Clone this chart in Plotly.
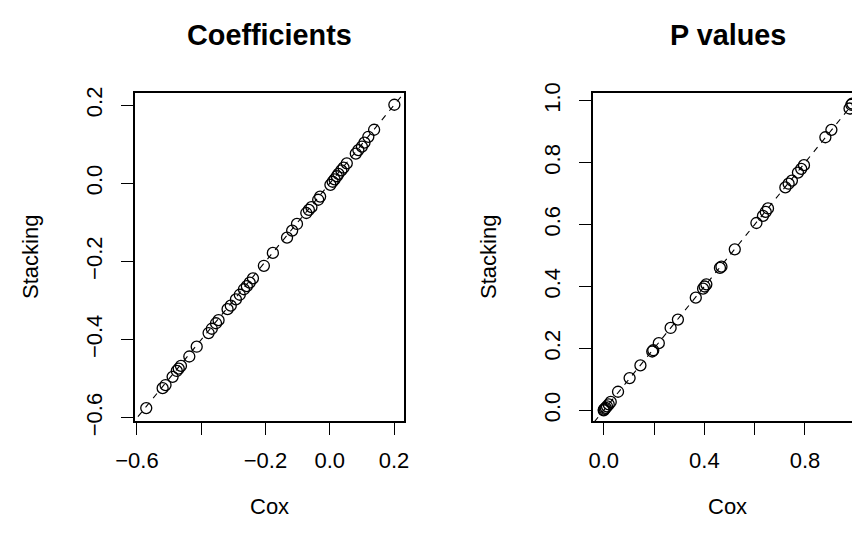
import plotly.graph_objects as go

# ---- data: Coefficients panel ----
coef_cox = [-0.571, -0.520, -0.511, -0.489, -0.476, -0.470, -0.463, -0.437, -0.414,
            -0.377, -0.367, -0.354, -0.346, -0.318, -0.308, -0.292, -0.280, -0.267,
            -0.258, -0.249, -0.239, -0.205, -0.177, -0.133, -0.117, -0.102, -0.073,
            -0.065, -0.057, -0.036, -0.030, 0.002, 0.009, 0.015, 0.022, 0.027, 0.036,
            0.043, 0.053, 0.081, 0.089, 0.100, 0.108, 0.120, 0.138, 0.201]
coef_stack = [-0.575, -0.524, -0.516, -0.495, -0.480, -0.474, -0.467, -0.443, -0.418,
              -0.383, -0.372, -0.358, -0.350, -0.322, -0.313, -0.297, -0.285, -0.271,
              -0.263, -0.254, -0.243, -0.211, -0.178, -0.139, -0.121, -0.104, -0.076,
              -0.068, -0.061, -0.042, -0.034, -0.004, 0.004, 0.010, 0.018, 0.024, 0.033,
              0.040, 0.051, 0.076, 0.085, 0.094, 0.104, 0.119, 0.137, 0.201]

# ---- data: P values panel ----
p_cox = [0.000, 0.001, 0.004, 0.008, 0.013, 0.020, 0.028, 0.057, 0.103, 0.146,
         0.193, 0.197, 0.219, 0.266, 0.295, 0.366, 0.395, 0.401, 0.408, 0.462,
         0.468, 0.521, 0.607, 0.633, 0.644, 0.653, 0.722, 0.735, 0.748, 0.772,
         0.785, 0.796, 0.881, 0.905, 0.977, 0.984, 0.988]
p_stack = [0.000, 0.002, 0.005, 0.008, 0.013, 0.019, 0.027, 0.060, 0.104, 0.145,
           0.190, 0.194, 0.217, 0.266, 0.293, 0.364, 0.393, 0.400, 0.407, 0.460,
           0.464, 0.520, 0.605, 0.628, 0.641, 0.652, 0.720, 0.732, 0.742, 0.768,
           0.780, 0.792, 0.882, 0.906, 0.975, 0.987, 0.991]

coef_ticks = [-0.6, -0.4, -0.2, 0.0, 0.2]
coef_xlabels = ["\u22120.6", "", "\u22120.2", "0.0", "0.2"]
coef_ylabels = ["\u22120.6", "\u22120.4", "\u22120.2", "0.0", "0.2"]
p_ticks = [0.0, 0.2, 0.4, 0.6, 0.8, 1.0]
p_xlabels = ["0.0", "", "0.4", "", "0.8", ""]
p_ylabels = ["0.0", "0.2", "0.4", "0.6", "0.8", "1.0"]

titles = ["Coefficients", "P values"]
xtitle = "Cox"
ytitle = "Stacking"

W, H = 860, 544
FONT = "Liberation Sans, Arial, Helvetica, sans-serif"
boxes = [(127, 396), (585, 854)]
top, bottom = 85, 413

fig = go.Figure()

marker = dict(symbol="circle-open", size=11, color="black", line=dict(width=1.3, color="black"))
for i, (xs, ys, rng) in enumerate([(coef_cox, coef_stack, (-1, 1)), (p_cox, p_stack, (-1, 2))]):
    xa = "x" if i == 0 else "x2"
    ya = "y" if i == 0 else "y2"
    fig.add_trace(go.Scatter(x=list(rng), y=list(rng), mode="lines",
                             line=dict(color="black", width=1.1, dash="6px,6px"),
                             xaxis=xa, yaxis=ya, showlegend=False, hoverinfo="skip"))
    fig.add_trace(go.Scatter(x=xs, y=ys, mode="markers", marker=marker,
                             xaxis=xa, yaxis=ya, showlegend=False))

ydom = [1 - bottom / H, 1 - top / H]
common = dict(showgrid=False, zeroline=False, showline=True, linecolor="black", linewidth=1.5,
              mirror=True, ticks="outside", ticklen=12.5, tickwidth=1.3, tickcolor="black",
              automargin=False,
              tickfont=dict(family=FONT, size=22, color="black"))

fig.update_layout(
    width=W, height=H, margin=dict(l=0, r=0, t=0, b=0),
    paper_bgcolor="white", plot_bgcolor="white",
    xaxis=dict(domain=[boxes[0][0] / W, boxes[0][1] / W], range=[-0.606, 0.231],
               tickvals=coef_ticks, ticktext=coef_xlabels, anchor="y",
               ticklabelstandoff=6, **common),
    yaxis=dict(domain=ydom, range=[-0.608, 0.231], tickvals=coef_ticks, ticktext=coef_ylabels,
               anchor="x", tickangle=-90, ticklabelstandoff=10, **common),
    xaxis2=dict(domain=[boxes[1][0] / W, boxes[1][1] / W], range=[-0.0425, 1.0266],
                tickvals=p_ticks, ticktext=p_xlabels, anchor="y2",
                ticklabelstandoff=6, **common),
    yaxis2=dict(domain=ydom, range=[-0.0345, 1.025], tickvals=p_ticks, ticktext=p_ylabels,
                anchor="x2", tickangle=-90, ticklabelstandoff=10, **common),
)

anns = []
for i, (l, r) in enumerate(boxes):
    cx = (l + r) / 2 / W
    anns.append(dict(text="<b>%s</b>" % titles[i], x=cx, y=1 - 27 / H, xref="paper", yref="paper",
                     showarrow=False, xanchor="center", yanchor="middle",
                     font=dict(family=FONT, size=28.8, color="black")))
    anns.append(dict(text=xtitle, x=cx, y=1 - 498 / H, xref="paper", yref="paper",
                     showarrow=False, xanchor="center", yanchor="middle",
                     font=dict(family=FONT, size=22, color="black")))
    anns.append(dict(text=ytitle, x=(l - 105) / W, y=1 - ((top + bottom) / 2) / H,
                     xref="paper", yref="paper", showarrow=False, textangle=-90,
                     xanchor="center", yanchor="middle",
                     font=dict(family=FONT, size=22, color="black")))
fig.update_layout(annotations=anns)

fig.write_html("out.html")
